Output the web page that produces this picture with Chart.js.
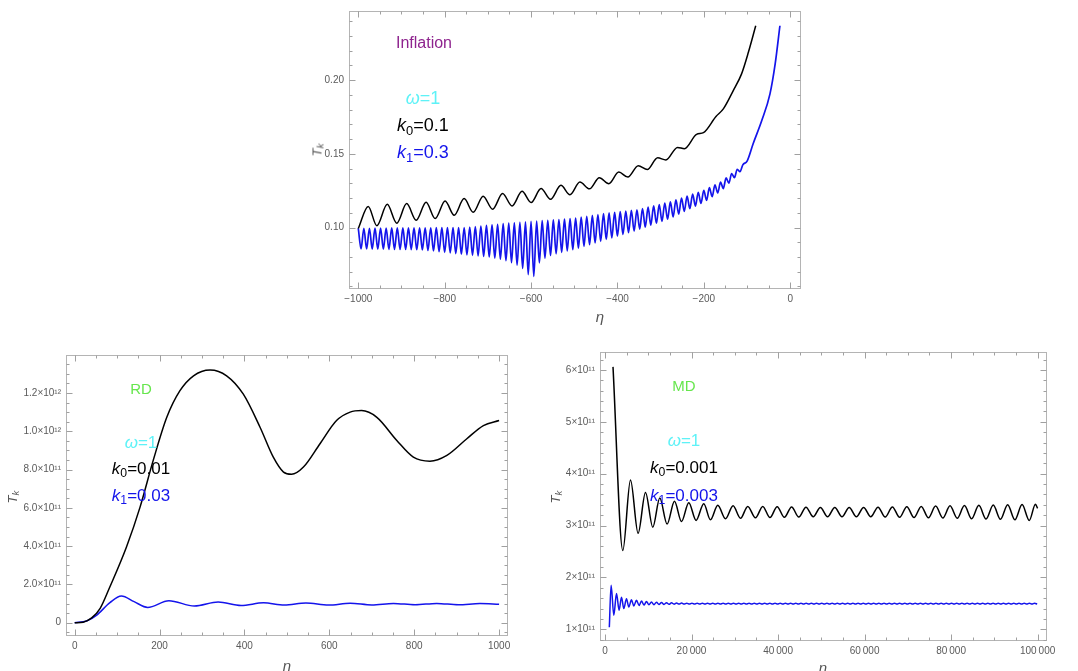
<!DOCTYPE html>
<html><head><meta charset="utf-8">
<script src="https://cdn.jsdelivr.net/npm/chart.js@4.4.1/dist/chart.umd.min.js"></script>
<style>
body{margin:0;width:1078px;height:671px;background:#fff;position:relative;overflow:hidden;font-family:"Liberation Sans",Arial,sans-serif;}
canvas{position:absolute;}
.lbl{position:absolute;white-space:nowrap;transform:translate(-50%,-50%);font-size:17px;line-height:1;}
.lbl sub{font-size:0.72em;vertical-align:-0.28em;line-height:0;}
.tk{position:absolute;white-space:nowrap;color:#555;font-size:13px;transform:translate(-50%,-50%) rotate(-90deg);line-height:1;}
.tk sub{font-size:0.75em;vertical-align:-0.25em;line-height:0;}
.eta{position:absolute;color:#555;font-size:15px;font-style:italic;transform:translate(-50%,-50%);line-height:1;}
</style></head>
<body>
<canvas id="cInf" width="532" height="315" style="left:299px;top:0px"></canvas>
<canvas id="cRD" width="522" height="318" style="left:16px;top:344px"></canvas>
<canvas id="cMD" width="527" height="326" style="left:550px;top:341px"></canvas>

<div class="lbl" style="left:424px;top:43px;color:#8e238e;font-size:16px">Inflation</div>
<div class="lbl" style="left:423px;top:98px;color:#5ef2f7;font-size:18px"><i>ω</i>=1</div>
<div class="lbl" style="left:423px;top:125px;color:#000;font-size:18px"><i>k</i><sub>0</sub>=0.1</div>
<div class="lbl" style="left:423px;top:152px;color:#1414eb;font-size:18px"><i>k</i><sub>1</sub>=0.3</div>
<div class="tk" style="left:317px;top:150px"><i>T</i><sub><i>k</i></sub></div>
<div class="eta" style="left:600px;top:316px">η</div>

<div class="lbl" style="left:141px;top:388px;color:#66e64d;font-size:15px">RD</div>
<div class="lbl" style="left:141px;top:442px;color:#5ef2f7"><i>ω</i>=1</div>
<div class="lbl" style="left:141px;top:468px;color:#000"><i>k</i><sub>0</sub>=0.01</div>
<div class="lbl" style="left:141px;top:495px;color:#1414eb"><i>k</i><sub>1</sub>=0.03</div>
<div class="tk" style="left:12px;top:497px"><i>T</i><sub><i>k</i></sub></div>
<div class="eta" style="left:287px;top:665px">η</div>

<div class="lbl" style="left:684px;top:385px;color:#66e64d;font-size:15px">MD</div>
<div class="lbl" style="left:684px;top:440px;color:#5ef2f7"><i>ω</i>=1</div>
<div class="lbl" style="left:684px;top:467px;color:#000"><i>k</i><sub>0</sub>=0.001</div>
<div class="lbl" style="left:684px;top:495px;color:#1414eb"><i>k</i><sub>1</sub>=0.003</div>
<div class="tk" style="left:555px;top:497px"><i>T</i><sub><i>k</i></sub></div>
<div class="eta" style="left:823px;top:667px">η</div>

<script>
// ---------------- DATA ----------------
// Inflation panel: [eta, T_k]
const infBlack = [[-1000,0.0993],[-977,0.1142],[-957,0.1012],[-933,0.1157],[-911,0.1029],[-888,0.1162],[-866,0.1049],[-843,0.1171],[-822,0.1061],[-799,0.1180],[-778,0.1083],[-755,0.1196],[-734,0.1103],[-711,0.1212],[-689,0.1124],[-666,0.1230],[-644,0.1146],[-621,0.1245],[-600,0.1169],[-577,0.1264],[-555,0.1191],[-531,0.1286],[-510,0.1222],[-487,0.1308],[-465,0.1262],[-442,0.1338],[-420,0.1297],[-397,0.1376],[-376,0.1342],[-352,0.1419],[-331,0.1393],[-307,0.1473],[-288,0.1458],[-261,0.1543],[-245,0.1534],[-217,0.1631],[-201,0.1643],[-172,0.1753],[-155,0.1804],[-132,0.1928],[-113,0.2040],[-97,0.2188],[-80,0.2368]];
const infBlue = [[-1000,0.0995],[-993.6,0.0855],[-987.1,0.0995],[-980.7,0.0855],[-974.2,0.0995],[-967.8,0.0854],[-961.3,0.0996],[-954.9,0.0854],[-948.4,0.0996],[-942.0,0.0853],[-935.5,0.0996],[-929.1,0.0852],[-922.6,0.0997],[-916.2,0.0852],[-909.7,0.0997],[-903.3,0.0851],[-896.8,0.0997],[-890.4,0.0851],[-883.9,0.0997],[-877.5,0.0850],[-871.0,0.0997],[-864.6,0.0849],[-858.1,0.0998],[-851.7,0.0848],[-845.2,0.0998],[-838.8,0.0845],[-832.3,0.0998],[-825.9,0.0841],[-819.4,0.0999],[-813.0,0.0837],[-806.5,0.0999],[-800.1,0.0832],[-793.6,0.0999],[-787.2,0.0828],[-780.7,0.0999],[-774.3,0.0823],[-767.8,0.1000],[-761.4,0.0819],[-754.9,0.1000],[-748.5,0.0815],[-742.0,0.1002],[-735.6,0.0811],[-729.1,0.1006],[-722.7,0.0808],[-716.2,0.1010],[-709.8,0.0804],[-703.3,0.1014],[-696.9,0.0800],[-690.4,0.1018],[-684.0,0.0793],[-677.5,0.1022],[-671.1,0.0785],[-664.6,0.1026],[-658.2,0.0775],[-651.7,0.1030],[-645.3,0.0762],[-638.8,0.1032],[-632.4,0.0745],[-625.9,0.1035],[-619.5,0.0722],[-613.0,0.1038],[-606.6,0.0680],[-600.1,0.1041],[-593.7,0.0668],[-587.2,0.1043],[-580.8,0.0760],[-574.3,0.1046],[-567.9,0.0792],[-561.4,0.1049],[-555.0,0.0810],[-548.5,0.1052],[-542.1,0.0822],[-535.6,0.1054],[-529.2,0.0832],[-522.7,0.1057],[-516.3,0.0841],[-509.8,0.1060],[-503.4,0.0850],[-496.9,0.1063],[-490.5,0.0861],[-484.0,0.1070],[-477.6,0.0872],[-471.1,0.1076],[-464.7,0.0883],[-458.2,0.1082],[-451.8,0.0895],[-445.3,0.1088],[-438.9,0.0906],[-432.4,0.1094],[-426.0,0.0919],[-419.5,0.1099],[-413.1,0.0930],[-406.6,0.1103],[-400.2,0.0942],[-393.7,0.1107],[-387.3,0.0953],[-380.8,0.1111],[-374.4,0.0965],[-367.9,0.1116],[-361.5,0.0976],[-355.0,0.1120],[-348.6,0.0989],[-342.1,0.1129],[-335.7,0.1002],[-329.2,0.1138],[-322.8,0.1016],[-316.3,0.1147],[-309.9,0.1029],[-303.4,0.1156],[-297.0,0.1042],[-290.5,0.1165],[-284.1,0.1056],[-277.6,0.1174],[-271.2,0.1072],[-264.7,0.1187],[-258.3,0.1091],[-251.8,0.1200],[-245.4,0.1109],[-238.9,0.1213],[-232.5,0.1127],[-226.0,0.1226],[-219.6,0.1145],[-213.1,0.1239],[-206.7,0.1163],[-200.2,0.1252],[-193.8,0.1184],[-187.3,0.1270],[-180.9,0.1209],[-174.4,0.1289],[-168.0,0.1234],[-161.5,0.1308],[-155.1,0.1264],[-148.6,0.1336],[-142.2,0.1301],[-135.7,0.1366],[-129.3,0.1338],[-122.8,0.1395],[-116.4,0.1378],[-109.9,0.1425],[-100,0.1450],[-86,0.1568],[-66,0.1725],[-47,0.1906],[-35,0.2109],[-24,0.2368]];

// RD panel: [eta, T_k in units of 1e11]
const rdBlack = [[0,0],[20,0.03],[40,0.25],[60,0.75],[83,1.88],[122,3.96],[154,6.04],[185,8.48],[217,10.73],[248,12.12],[280,12.9],[319,13.2],[358,12.9],[397,11.95],[437,10.2],[468,8.65],[492,7.87],[511,7.75],[539,8.13],[578,9.35],[617,10.56],[649,11.0],[676,11.08],[712,10.73],[759,9.52],[798,8.65],[837,8.44],[877,8.74],[924,9.61],[963,10.3],[1000,10.56]];
const rdBlue = [[0,0],[28,0.09],[52,0.40],[83,1.05],[110,1.39],[140,1.10],[172,0.80],[222,1.15],[282,0.87],[338,1.08],[392,0.90],[445,1.04],[494,0.92],[545,1.03],[598,0.92],[649,1.02],[700,0.93],[751,1.01],[802,0.94],[853,1.01],[904,0.94],[955,1.00],[1000,0.96]];

// MD panel: [eta, T_k in units of 1e11]
const mdBlack = [[1850,6.06],[4114,2.52],[5893,3.88],[7650,2.85],[9360,3.64],[11047,2.97],[12664,3.53],[14351,3.03],[16061,3.47],[17679,3.08],[19366,3.44],[21053,3.10],[22833,3.42],[24381,3.11],[26068,3.39],[27848,3.13],[29604,3.38],[31315,3.14],[33002,3.37],[34781,3.15],[36468,3.37],[38133,3.155],[39798,3.365],[41463,3.16],[43128,3.36],[44793,3.165],[46458,3.355],[48123,3.17],[49788,3.35],[51453,3.17],[53118,3.35],[54783,3.17],[56448,3.35],[58113,3.17],[59778,3.35],[61443,3.17],[63108,3.355],[64773,3.165],[66438,3.36],[68103,3.16],[69768,3.365],[71433,3.155],[73098,3.37],[74763,3.15],[76428,3.375],[78093,3.145],[79758,3.38],[81423,3.14],[83088,3.385],[84753,3.13],[86418,3.39],[88083,3.125],[89748,3.395],[91413,3.12],[93078,3.40],[94743,3.11],[96408,3.405],[98073,3.10],[99500,3.41],[100000,3.33]];
const mdBlue = [[1000,1.04],[1410,1.85],[2034,1.27],[2658,1.69],[3259,1.37],[3813,1.62],[4345,1.40],[4970,1.59],[5501,1.43],[6126,1.57],[6656,1.45],[7280,1.56],[7881,1.46],[8435,1.545],[9000,1.467],[9580,1.535],[10160,1.472],[10740,1.527],[11320,1.476],[11900,1.522],[12480,1.479],[13060,1.517],[13640,1.481],[14220,1.513],[14800,1.483],[15380,1.510],[15960,1.485],[16540,1.508],[17120,1.486],[17700,1.506],
[18300,1.486],[18900,1.505],[19500,1.486],[20100,1.505],[20700,1.486],[21300,1.505],[21900,1.486],[22500,1.505],[23100,1.486],[23700,1.505],[24300,1.486],[24900,1.505],[25500,1.486],[26100,1.505],[26700,1.486],[27300,1.505],[27900,1.486],[28500,1.505],[29100,1.486],[29700,1.505],
[30300,1.486],[30900,1.505],[31500,1.486],[32100,1.505],[32700,1.486],[33300,1.505],[33900,1.486],[34500,1.505],[35100,1.486],[35700,1.505],[36300,1.486],[36900,1.505],[37500,1.486],[38100,1.505],[38700,1.486],[39300,1.505],[39900,1.486],[40500,1.505],[41100,1.486],[41700,1.505],
[42300,1.486],[42900,1.505],[43500,1.486],[44100,1.505],[44700,1.486],[45300,1.505],[45900,1.486],[46500,1.505],[47100,1.486],[47700,1.505],[48300,1.486],[48900,1.505],[49500,1.486],[50100,1.505],[50700,1.486],[51300,1.505],[51900,1.486],[52500,1.505],[53100,1.486],[53700,1.505],
[54300,1.486],[54900,1.505],[55500,1.486],[56100,1.505],[56700,1.486],[57300,1.505],[57900,1.486],[58500,1.505],[59100,1.486],[59700,1.505],[60300,1.486],[60900,1.505],[61500,1.486],[62100,1.505],[62700,1.486],[63300,1.505],[63900,1.486],[64500,1.505],[65100,1.486],[65700,1.505],
[66300,1.486],[66900,1.505],[67500,1.486],[68100,1.505],[68700,1.486],[69300,1.505],[69900,1.486],[70500,1.505],[71100,1.486],[71700,1.505],[72300,1.486],[72900,1.505],[73500,1.486],[74100,1.505],[74700,1.486],[75300,1.505],[75900,1.486],[76500,1.505],[77100,1.486],[77700,1.505],
[78300,1.486],[78900,1.505],[79500,1.486],[80100,1.505],[80700,1.486],[81300,1.505],[81900,1.486],[82500,1.505],[83100,1.486],[83700,1.505],[84300,1.486],[84900,1.505],[85500,1.486],[86100,1.505],[86700,1.486],[87300,1.505],[87900,1.486],[88500,1.505],[89100,1.486],[89700,1.505],
[90300,1.486],[90900,1.505],[91500,1.486],[92100,1.505],[92700,1.486],[93300,1.505],[93900,1.486],[94500,1.505],[95100,1.486],[95700,1.505],[96300,1.486],[96900,1.505],[97500,1.486],[98100,1.505],[98700,1.486],[99300,1.505],[99900,1.486]];

// Ticks
const infXTicks = [-1000,-800,-600,-400,-200,0];
const infXLabels = ['\u22121000','\u2212800','\u2212600','\u2212400','\u2212200','0'];
const infYTicks = [0.10,0.15,0.20];
const infYLabels = ['0.10','0.15','0.20'];
const infXMinor = [-1000,-950,-900,-850,-800,-750,-700,-650,-600,-550,-500,-450,-400,-350,-300,-250,-200,-150,-100,-50,0];
const infYMinor = [0.06,0.07,0.08,0.09,0.11,0.12,0.13,0.14,0.16,0.17,0.18,0.19,0.21,0.22,0.23,0.24];

const rdXTicks = [0,200,400,600,800,1000];
const rdXLabels = ['0','200','400','600','800','1000'];
const rdYTicks = [0,2,4,6,8,10,12];
const rdYLabels = ['0','2.0×10¹¹','4.0×10¹¹','6.0×10¹¹','8.0×10¹¹','1.0×10¹²','1.2×10¹²'];
const rdXMinor = [0,50,100,150,200,250,300,350,400,450,500,550,600,650,700,750,800,850,900,950,1000];
const rdYMinor = [-0.5,0.5,1,1.5,2.5,3,3.5,4.5,5,5.5,6.5,7,7.5,8.5,9,9.5,10.5,11,11.5,12.5,13,13.5];

const mdXTicks = [0,20000,40000,60000,80000,100000];
const mdXLabels = ['0','20\u2009000','40\u2009000','60\u2009000','80\u2009000','100\u2009000'];
const mdYTicks = [1,2,3,4,5,6];
const mdYLabels = ['1×10¹¹','2×10¹¹','3×10¹¹','4×10¹¹','5×10¹¹','6×10¹¹'];
const mdXMinor = [0,5000,10000,15000,20000,25000,30000,35000,40000,45000,50000,55000,60000,65000,70000,75000,80000,85000,90000,95000,100000];
const mdYMinor = [0.8,1.2,1.4,1.6,1.8,2.2,2.4,2.6,2.8,3.2,3.4,3.6,3.8,4.2,4.4,4.6,4.8,5.2,5.4,5.6,5.8,6.2];

// ---------------- RENDERING ----------------
const BLACK = '#000000', BLUE = 'rgb(20,20,235)';
const FONT = '"Liberation Sans", Arial, sans-serif';

const frameTicks = {
  id: 'frameTicks',
  beforeDatasetsDraw(chart, args, o) {
    const {ctx, chartArea: a, scales: {x, y}} = chart;
    ctx.save();
    ctx.lineWidth = 1;
    const L = Math.round(a.left) + 0.5, R = Math.round(a.right) - 0.5;
    const T = Math.round(a.top) + 0.5, B = Math.round(a.bottom) - 0.5;
    ctx.strokeStyle = '#b4b4b4';
    ctx.strokeRect(L, T, R - L, B - T);
    ctx.strokeStyle = '#a0a0a0';
    ctx.beginPath();
    const vx = (v, len) => { const p = Math.round(x.getPixelForValue(v)) + 0.5; if (p < L || p > R) return;
      ctx.moveTo(p, B); ctx.lineTo(p, B - len); ctx.moveTo(p, T); ctx.lineTo(p, T + len); };
    const vy = (v, len) => { const p = Math.round(y.getPixelForValue(v)) + 0.5; if (p < T || p > B) return;
      ctx.moveTo(L, p); ctx.lineTo(L + len, p); ctx.moveTo(R, p); ctx.lineTo(R - len, p); };
    o.xMinor.forEach(v => vx(v, 3)); o.xMajor.forEach(v => vx(v, 6));
    o.yMinor.forEach(v => vy(v, 3)); o.yMajor.forEach(v => vy(v, 6));
    ctx.stroke();
    ctx.restore();
  }
};

function panel(id, c) {
  return new Chart(document.getElementById(id), {
    type: 'line',
    data: { datasets: c.series.map(s => ({
      data: s.data.map(p => ({x: p[0], y: p[1]})),
      borderColor: s.color, borderWidth: s.width || 1.5, pointRadius: 0,
      cubicInterpolationMode: 'monotone', fill: false
    })) },
    options: {
      responsive: false, animation: false, events: [],
      layout: { padding: { top: c.padT, right: c.padR, left: 0, bottom: 0 } },
      plugins: { legend: { display: false }, tooltip: { enabled: false },
        frameTicks: { xMajor: c.xTicks, xMinor: c.xMinor, yMajor: c.yTicks, yMinor: c.yMinor } },
      scales: {
        x: { type: 'linear', min: c.xMin, max: c.xMax,
          grid: { display: false, drawTicks: false }, border: { display: false },
          afterBuildTicks: s => { s.ticks = c.xTicks.map(v => ({value: v})); },
          afterFit: s => { s.height = c.xH; },
          ticks: { callback: (v, i) => c.xLabels[i], padding: 4, color: '#5a5a5a',
            font: { size: 10, family: FONT }, maxRotation: 0, autoSkip: false } },
        y: { type: 'linear', min: c.yMin, max: c.yMax,
          grid: { display: false, drawTicks: false }, border: { display: false },
          afterBuildTicks: s => { s.ticks = c.yTicks.map(v => ({value: v})); },
          afterFit: s => { s.width = c.yW; },
          ticks: { callback: (v, i) => c.yLabels[i], padding: 5, color: '#5a5a5a',
            font: { size: 10, family: FONT }, autoSkip: false } }
      }
    },
    plugins: [frameTicks]
  });
}

panel('cInf', { series: [{data: infBlack, color: BLACK}, {data: infBlue, color: BLUE, width: 1.7}],
  xMin: -1021.5, xMax: 24.8, yMin: 0.0583, yMax: 0.2468,
  xTicks: infXTicks, xLabels: infXLabels, yTicks: infYTicks, yLabels: infYLabels,
  xMinor: infXMinor, yMinor: infYMinor, padT: 10, padR: 30, xH: 26, yW: 50 });

panel('cRD', { series: [{data: rdBlack, color: BLACK}, {data: rdBlue, color: BLUE}],
  xMin: -20.5, xMax: 1021, yMin: -0.693, yMax: 13.985,
  xTicks: rdXTicks, xLabels: rdXLabels, yTicks: rdYTicks, yLabels: rdYLabels,
  xMinor: rdXMinor, yMinor: rdYMinor, padT: 10, padR: 30, xH: 26, yW: 50 });

panel('cMD', { series: [{data: mdBlack, color: BLACK}, {data: mdBlue, color: BLUE}],
  xMin: -1156, xMax: 102172, yMin: 0.775, yMax: 6.346,
  xTicks: mdXTicks, xLabels: mdXLabels, yTicks: mdYTicks, yLabels: mdYLabels,
  xMinor: mdXMinor, yMinor: mdYMinor, padT: 10, padR: 30, xH: 26, yW: 50 });
</script>
</body></html>
